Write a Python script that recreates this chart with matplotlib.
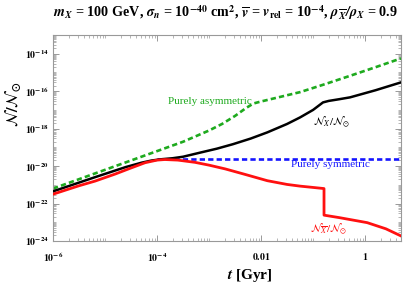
import numpy as np
import matplotlib as mpl
import matplotlib.pyplot as plt
from matplotlib.ticker import LogLocator, FixedLocator, FuncFormatter, NullFormatter

mpl.rcParams.update({
    "font.family": "Liberation Serif",
    "mathtext.fontset": "stix",
    "axes.linewidth": 0.8,
})

# ── data (log10 t [Gyr], log10 N/N_sun) ─────────────────────────────────────
asym_logt = [-6.0, -5.0, -4.0, -3.5, -3.0, -2.75, -2.5, -2.3, -2.15, -2.0,
             -1.7, -1.25, -0.8, -0.29, 0.2, 0.69]
asym_logn = [-21.2, -20.2, -19.2, -18.7, -18.1, -17.75, -17.32, -16.92, -16.66,
             -16.55, -16.35, -16.05, -15.65, -15.18, -14.72, -14.25]

tot_logt = [-6.0, -5.2, -4.6, -4.3, -4.1, -3.9, -3.7, -3.5, -3.17, -2.85,
            -2.54, -2.2, -1.88, -1.5, -1.25, -1.0, -0.81, -0.7, -0.5, -0.29,
            0.2, 0.69]
tot_logn = [-21.35, -20.6, -20.05, -19.82, -19.7, -19.63, -19.58, -19.5,
            -19.28, -19.07, -18.83, -18.53, -18.2, -17.75, -17.4, -17.0,
            -16.6, -16.52, -16.43, -16.33, -15.95, -15.53]

sym_logt = [-4.0, 0.69]
sym_logn = [-19.63, -19.63]

anti_logt = [-6.0, -5.5, -5.19, -4.8, -4.5, -4.23, -4.0, -3.85, -3.6, -3.27,
             -3.0, -2.69, -2.3, -1.88, -1.5, -1.25, -1.0, -0.79, -0.79, -0.5,
             0.04, 0.4, 0.69]
anti_logn = [-21.5, -21.05, -20.8, -20.42, -20.1, -19.82, -19.68, -19.65,
             -19.68, -19.8, -19.95, -20.15, -20.45, -20.78, -20.98, -21.07,
             -21.14, -21.2, -22.62, -22.75, -23.02, -23.35, -23.73]

C_GREEN = "#1EAA1E"
C_BLUE = "#1414FF"
C_RED = "#FF1010"


def _p(a):
    return 10.0 ** np.asarray(a)


def _tick_label(v, pos):
    e = int(round(np.log10(v)))
    if e == -2:
        return r"$\mathbf{0.01}$"
    if e == 0:
        return r"$\mathbf{1}$"
    return r"$\mathbf{10^{%d}}$" % e


fig = plt.figure(figsize=(4.05, 2.92), dpi=100)
ax = fig.add_axes([53 / 405, 51 / 292, 348 / 405, 206 / 292])

ax.plot(_p(asym_logt), _p(asym_logn), color=C_GREEN, lw=1.9,
        dashes=(2.0, 1.2), zorder=2)
ax.plot(_p(sym_logt), _p(sym_logn), color=C_BLUE, lw=1.9,
        dashes=(2.0, 1.2), zorder=2)
ax.plot(_p(tot_logt), _p(tot_logn), color="black", lw=1.8, zorder=3)
ax.plot(_p(anti_logt), _p(anti_logn), color=C_RED, lw=2.0, zorder=4)

ax.set_xscale("log")
ax.set_yscale("log")
ax.set_xlim(1e-6, 10 ** 0.69)
ax.set_ylim(1e-24, 10 ** -13.0)

ax.xaxis.set_major_locator(FixedLocator([1e-6, 1e-4, 1e-2, 1.0]))
ax.yaxis.set_major_locator(FixedLocator([10.0 ** k for k in range(-24, -12, 2)]))
ax.xaxis.set_minor_locator(LogLocator(base=10, subs=np.arange(1, 10), numticks=100))
ax.yaxis.set_minor_locator(LogLocator(base=10, subs=np.arange(1, 10), numticks=100))
ax.xaxis.set_major_formatter(FuncFormatter(_tick_label))
ax.yaxis.set_major_formatter(FuncFormatter(_tick_label))
ax.xaxis.set_minor_formatter(NullFormatter())
ax.yaxis.set_minor_formatter(NullFormatter())

for s in ax.spines.values():
    s.set_color("#999999")
ax.tick_params(which="both", direction="in", top=True, right=True,
               color="#999999", labelsize=7)
ax.tick_params(which="major", length=4, width=0.7, pad=3)
ax.tick_params(axis="x", which="major", pad=7)
ax.tick_params(which="minor", length=2, width=0.5)

ax.set_xlabel(r"$\mathbfit{t}$ [Gyr]", fontsize=11, fontweight="bold")
ax.xaxis.set_label_coords(0.566, -0.128)
ax.set_ylabel(r"$\mathbf{\mathcal{N}/\mathcal{N}_{\odot}}$", fontsize=11.5)
ax.yaxis.set_label_coords(-0.085, 0.665)

ax.text(10 ** -2.98, 10 ** -16.57, "Purely asymmetric", color=C_GREEN,
        fontsize=8, ha="center", va="center")
ax.text(10 ** -0.67, 10 ** -19.94, "Purely symmetric", color=C_BLUE,
        fontsize=8, ha="center", va="center")
ax.text(10 ** -0.65, 10 ** -17.69, r"$\mathcal{N}_{X}/\mathcal{N}_{\odot}$",
        color="black", fontsize=8, ha="center", va="center")
ax.text(10 ** -0.69, 10 ** -23.36,
        r"$\mathcal{N}_{\overline{X}}/\mathcal{N}_{\odot}$",
        color=C_RED, fontsize=8, ha="center", va="center")

fig.text(225 / 405, 1 - 13 / 292,
         r"$\mathbfit{m_X}$ = 100 GeV, $\mathbfit{\sigma_n}$ = 10$^{\mathbf{-40}}$ cm$^{\mathbf{2}}$, "
         r"$\mathbfit{\overline{v}}$ = $\mathbfit{v}_{\mathbf{rel}}$ = 10$^{\mathbf{-4}}$, "
         r"$\mathbfit{\rho_{\overline{X}}/\rho_X}$ = 0.9",
         ha="center", va="center", fontsize=10.2, fontweight="bold")

fig.savefig("out.png", dpi=100)
